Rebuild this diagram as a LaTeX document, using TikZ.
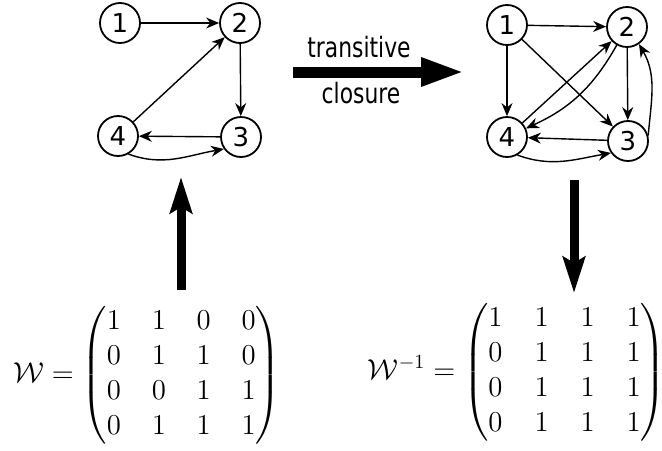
\documentclass[tikz,border=0pt]{standalone}
\usepackage{amsmath}
\usepackage{fontspec}
\usetikzlibrary{arrows.meta}
\newfontfamily\lblfont[FakeStretch=0.78]{DejaVu Sans}
\newfontfamily\numfont{DejaVu Sans}

\begin{document}
\begin{tikzpicture}[x=0.5pt, y=-0.5pt,
	vtx/.style={circle, draw, line width=0.9pt, minimum size=20pt, inner sep=0pt,
		font=\numfont\fontsize{13}{13}\selectfont},
	edge/.style={-{Stealth[length=6.5pt,width=5.5pt]}, line width=0.7pt},
	bigarrow/.style={-{Triangle[length=22pt,width=13pt]}, line width=5.5pt},
	vertarrow/.style={-{Stealth[length=18pt,width=11pt,inset=3pt]}, line width=4.5pt},
	lbl/.style={font=\lblfont\fontsize{14}{14}\selectfont, anchor=base},
	mat/.style={font=\fontsize{14.5}{17.5}\selectfont, inner sep=0pt}]
	\useasboundingbox (0,0) rectangle (662,450);
	% original relation
	\node[vtx] (a1) at (120,23) {1};
	\node[vtx] (a2) at (240,23) {2};
	\node[vtx] (a3) at (241,137) {3};
	\node[vtx] (a4) at (118,136) {4};
	\draw[edge] (a1) -- (a2);
	\draw[edge] (a2) -- (a3);
	\draw[edge] (a3) -- (a4);
	\draw[edge] (a4) -- (a2);
	\draw[edge] (a4.-60) to[out=-20, in=190] (a3.-145);
	% closure
	\node[vtx] (b1) at (507,25) {1};
	\node[vtx] (b2) at (627,27) {2};
	\node[vtx] (b3) at (628,141) {3};
	\node[vtx] (b4) at (507,137) {4};
	\draw[edge] (b1) -- (b2);
	\draw[edge] (b1) -- (b4);
	\draw[edge] (b1) -- (b3);
	\draw[edge] (b2) -- (b3);
	\draw[edge] (b3) -- (b4);
	\draw[edge] (b4) -- (b2);
	\draw[edge] (b2) to[bend left=18] (b4);
	\draw[edge] (b4.-60) to[out=-20, in=190] (b3.-145);
	\draw[edge] (b3.15) to[out=85, in=-60] (b2.-55);
	% transitive closure arrow
	\coordinate (tcs) at (293,72);
	\coordinate (tce) at (465,72);
	\draw[bigarrow] (tcs) -- (tce);
	\node[lbl] (tctop) at (359,57) {transitive};
	\node[lbl] (tcbot) at (361,103) {closure};
	% matrices
	\node[mat] (wmat) at (147,375) {$\mathcal{W} = \setlength{\arraycolsep}{7.7pt}\begin{pmatrix}
		1 & 1 & 0 & 0\\
		0 & 1 & 1 & 0\\
		0 & 0 & 1 & 1\\
		0 & 1 & 1 & 1
	\end{pmatrix}$};
	\node[mat] (winv) at (517,372) {$\mathcal{W}^{-1} = \setlength{\arraycolsep}{8pt}\begin{pmatrix}
		1 & 1 & 1 & 1\\
		0 & 1 & 1 & 1\\
		0 & 1 & 1 & 1\\
		0 & 1 & 1 & 1
	\end{pmatrix}$};
	\coordinate (ups) at (181,290);
	\coordinate (upe) at (181,177);
	\draw[vertarrow] (ups) -- (upe);
	\coordinate (dns) at (574,180);
	\coordinate (dne) at (574,293);
	\draw[vertarrow] (dns) -- (dne);
\end{tikzpicture}
\end{document}
